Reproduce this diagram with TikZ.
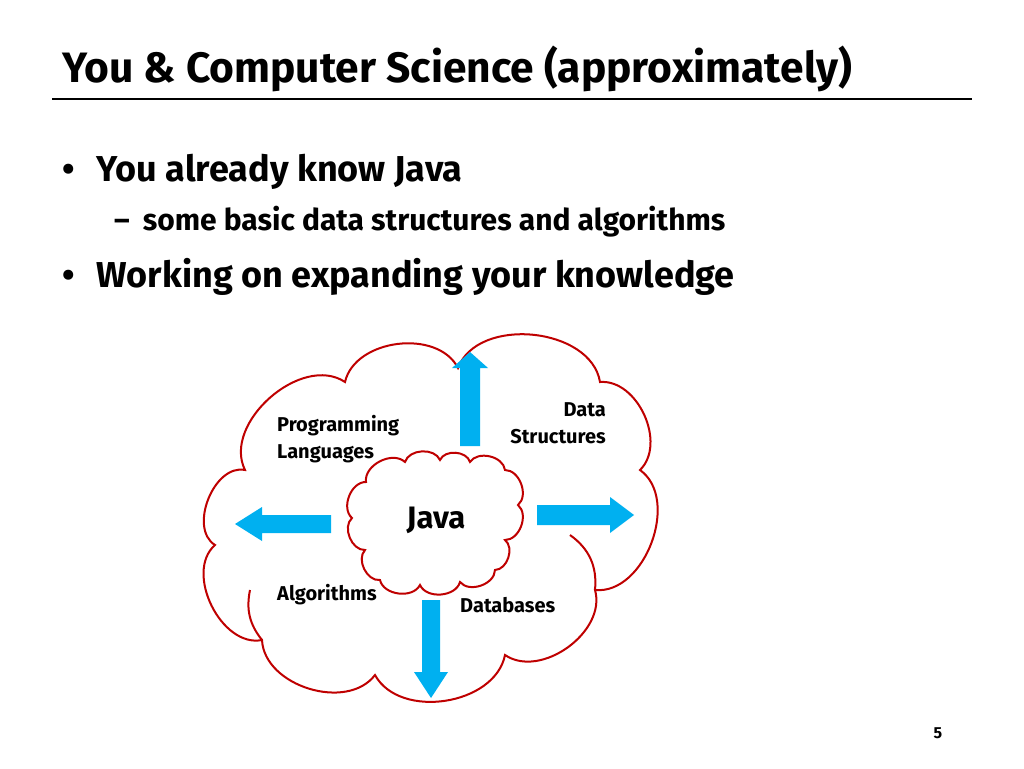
\documentclass[tikz,border=0pt]{standalone}
\usepackage{fontspec}
\setmainfont{Fira Sans}
\definecolor{arrblue}{HTML}{00B0F0}
\begin{document}
\begin{tikzpicture}[x=1pt,y=-1pt,font=\bfseries,
  cloud/.style={draw=red!75!black,line width=2pt},
  arr/.style={fill=arrblue,draw=none},
  lab/.style={font=\bfseries\fontsize{20}{27}\selectfont,align=left,inner sep=0pt}]
\useasboundingbox[fill=white] (0,0) rectangle (1024,768);
\node[anchor=base west,inner sep=0pt,font=\bfseries\fontsize{42.5}{46}\selectfont] (title) at (62,82) {You \& Computer Science (approximately)};
\draw[line width=2.5pt] (52,99) coordinate (l1) -- (972,99) coordinate (l2);
\node[anchor=west,inner sep=0pt,font=\bfseries\fontsize{36}{40}\selectfont] (b1) at (62,172) {•\hspace{22pt}You already know Java};
\node[anchor=west,inner sep=0pt,font=\bfseries\fontsize{30}{32}\selectfont] (b2) at (114,222) {–\hspace{13pt}some basic data structures and algorithms};
\node[anchor=west,inner sep=0pt,font=\bfseries\fontsize{36}{40}\selectfont] (b3) at (62,277) {•\hspace{22pt}Working on expanding your knowledge};
% outer cloud
\draw[cloud,fill=white] (245,470) to[bend left=75] (345,382) to[bend left=70] (458,368) to[bend left=75] (600,382)
  to[bend left=70] (640,470) to[bend left=75] (595,590) to[bend left=70] (505,655) to[bend left=70] (375,675)
  to[bend left=70] (262,640) to[bend left=75] (215,545) to[bend left=80] (245,470) -- cycle;
\draw[cloud] (595,590) to[bend right=30] (570,535);
\draw[cloud] (262,640) to[bend left=25] (250,590);
% inner cloud
\draw[cloud,fill=white] (366,482) to[bend left=70] (405,462) to[bend left=70] (440,460) to[bend left=70] (470,462)
  to[bend left=70] (505,470) to[bend left=70] (518,505) to[bend left=70] (505,540) to[bend left=70] (495,570)
  to[bend left=70] (460,582) to[bend left=70] (420,585) to[bend left=70] (380,580) to[bend left=70] (365,550)
  to[bend left=70] (352,518) to[bend left=70] (366,482) -- cycle;
% arrows
\fill[arr] (460,446) -- (460,368) -- (452,368) -- (470,352) -- (488,368) -- (480,368) -- (480,446) -- cycle;
\fill[arr] (331,515) -- (262,515) -- (262,507) -- (235,524) -- (262,541) -- (262,533) -- (331,533) -- cycle;
\fill[arr] (537,505) -- (610,505) -- (610,497) -- (634,515) -- (610,533) -- (610,525) -- (537,525) -- cycle;
\fill[arr] (422,600) -- (422,672) -- (414,672) -- (431,698) -- (448,672) -- (440,672) -- (440,600) -- cycle;
% labels
\node[lab,anchor=north west] (pl) at (277,415) {Programming\\Languages};
\node[lab,anchor=north east,align=right] (ds) at (606,402) {Data\\Structures};
\node[inner sep=0pt,font=\bfseries\fontsize{31}{34}\selectfont] (java) at (436,520) {Java};
\node[lab,anchor=north west] (al) at (277,584) {Algorithms};
\node[lab,anchor=north west] (db) at (460,597) {Databases};
\node[inner sep=0pt,font=\bfseries\fontsize{16}{18}\selectfont] (pg) at (938,733) {5};
\end{tikzpicture}
\end{document}
